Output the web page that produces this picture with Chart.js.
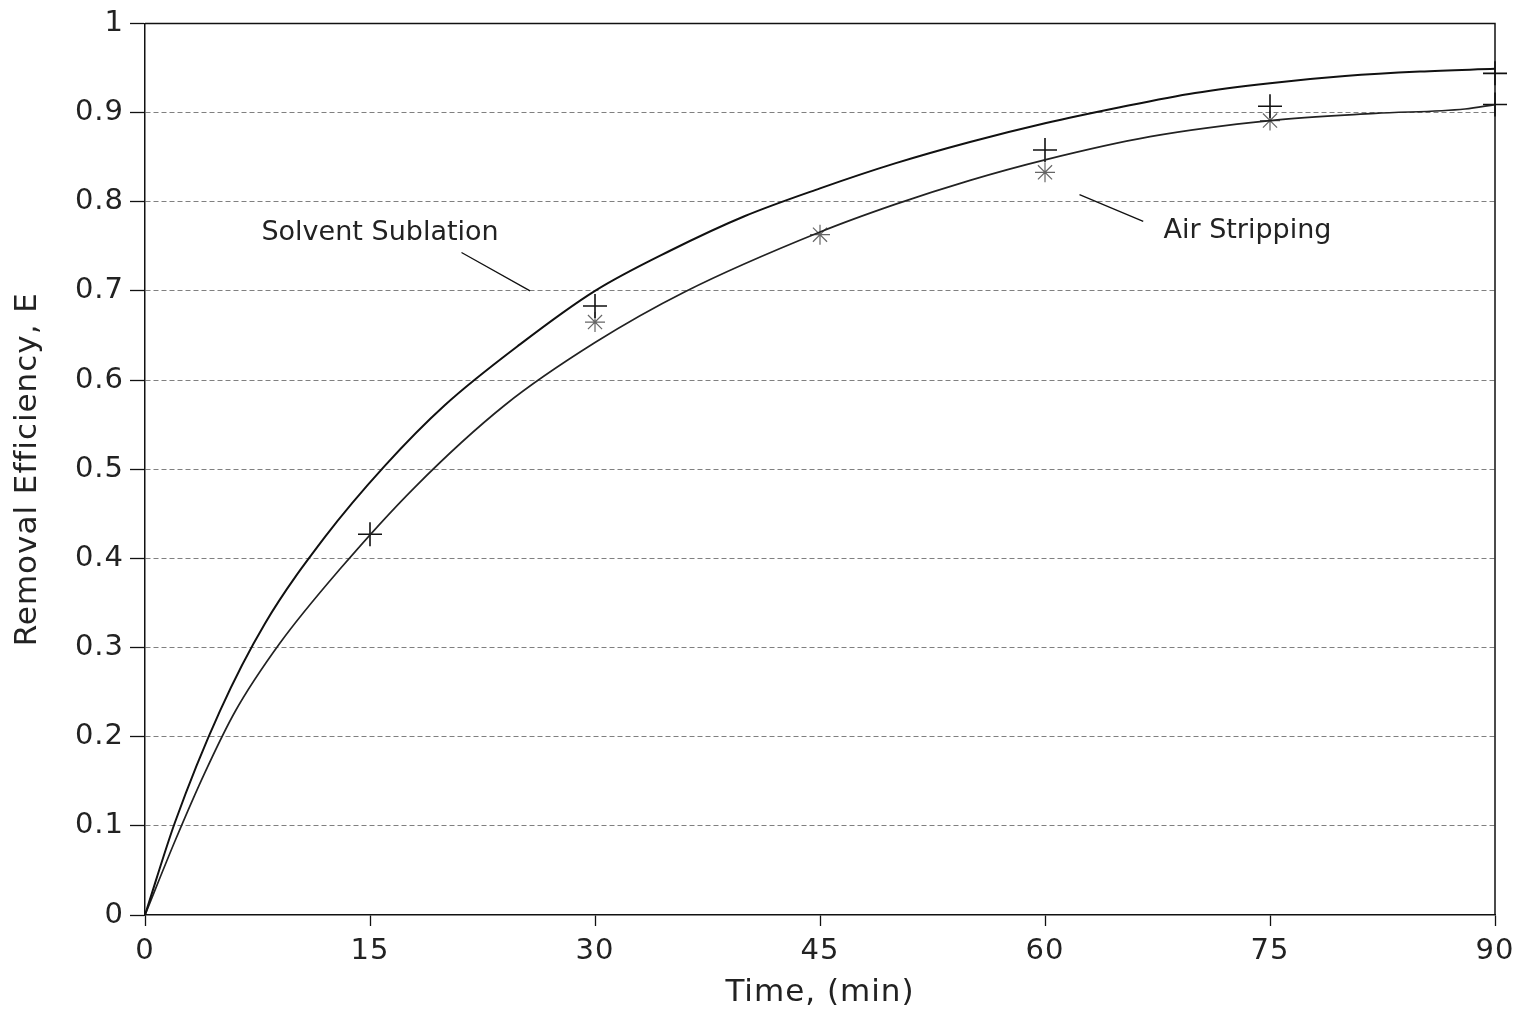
<!DOCTYPE html>
<html>
<head>
<meta charset="utf-8">
<script src="https://cdn.jsdelivr.net/npm/chart.js@4/dist/chart.umd.min.js"></script>
<style>
  html, body { margin: 0; padding: 0; background: #fff; }
  #wrap { width: 1526px; height: 1016px; }
</style>
</head>
<body>
<div id="wrap"><canvas id="chart" width="1526" height="1016"></canvas></div>
<script>
// curve: solvent sublation (upper line)
const sublationTime = [0, 2, 5, 8, 12, 16, 20, 25, 30, 35, 40, 45, 50, 55, 60, 65, 70, 75, 80, 85, 90];
const sublationE = [0, 0.104, 0.229, 0.327, 0.424, 0.504, 0.572, 0.640, 0.70, 0.745, 0.784, 0.815, 0.843, 0.867, 0.888, 0.906, 0.922, 0.933, 0.941, 0.946, 0.949];

// air stripping (lower line)
const strippingTime = [0, 2, 4, 6, 9, 13, 18, 24, 30, 36, 45, 50, 55, 60, 67, 75, 82, 88, 90];
const strippingE = [0, 0.083, 0.160, 0.228, 0.305, 0.388, 0.48, 0.572, 0.642, 0.699, 0.766, 0.797, 0.824, 0.847, 0.873, 0.891, 0.899, 0.904, 0.909];

// measured points
const plusTime = [15, 30, 60, 75, 90, 90];
const plusE = [0.427, 0.683, 0.858, 0.907, 0.944, 0.909];
const starTime = [30, 45, 60, 75];
const starE = [0.665, 0.763, 0.833, 0.891];

const xTicks = [0, 15, 30, 45, 60, 75, 90];
const yTicks = [0, 0.1, 0.2, 0.3, 0.4, 0.5, 0.6, 0.7, 0.8, 0.9, 1];

const FONT = "'DejaVu Sans', Verdana, sans-serif";

function pts(xs, ys) {
  return xs.map((x, i) => ({ x: x, y: ys[i] }));
}

// frame on top/right + curve labels with leader lines
const extras = {
  id: 'extras',
  beforeDraw(chart) {
    chart.ctx.letterSpacing = '1px';
  },
  afterDatasetsDraw(chart) {
    const { ctx, chartArea, scales } = chart;
    const xs = scales.x, ys = scales.y;
    ctx.save();
    ctx.strokeStyle = '#111';
    ctx.lineWidth = 1.5;
    ctx.beginPath();
    ctx.moveTo(chartArea.left, chartArea.top);
    ctx.lineTo(chartArea.right, chartArea.top);
    ctx.lineTo(chartArea.right, chartArea.bottom);
    ctx.stroke();

    ctx.letterSpacing = '0px';
    ctx.fillStyle = '#222';
    ctx.font = '27px ' + FONT;
    ctx.textAlign = 'center';
    ctx.textBaseline = 'middle';
    ctx.fillText('Solvent Sublation', xs.getPixelForValue(15.67), ys.getPixelForValue(0.765));
    ctx.fillText('Air Stripping', xs.getPixelForValue(73.5), ys.getPixelForValue(0.767));

    ctx.lineWidth = 1.3;
    ctx.beginPath();
    ctx.moveTo(xs.getPixelForValue(21.1), ys.getPixelForValue(0.743));
    ctx.lineTo(xs.getPixelForValue(25.67), ys.getPixelForValue(0.700));
    ctx.moveTo(xs.getPixelForValue(62.3), ys.getPixelForValue(0.808));
    ctx.lineTo(xs.getPixelForValue(66.55), ys.getPixelForValue(0.778));
    ctx.stroke();
    ctx.restore();
  }
};

const ctx = document.getElementById('chart').getContext('2d');
const chart = new Chart(ctx, {
  type: 'line',
  data: {
    datasets: [
      {
        label: 'Solvent Sublation',
        data: pts(sublationTime, sublationE),
        borderColor: '#111',
        borderWidth: 2,
        pointRadius: 0,
        cubicInterpolationMode: 'monotone',
        fill: false
      },
      {
        label: 'Air Stripping',
        data: pts(strippingTime, strippingE),
        borderColor: '#222',
        borderWidth: 1.7,
        pointRadius: 0,
        cubicInterpolationMode: 'monotone',
        fill: false
      },
      {
        label: 'data +',
        data: pts(plusTime, plusE),
        showLine: false,
        pointStyle: 'cross',
        pointRadius: 12,
        pointBorderWidth: 1.6,
        pointBorderColor: '#111',
        clip: false
      },
      {
        label: 'data *',
        data: pts(starTime, starE),
        showLine: false,
        pointStyle: 'star',
        pointRadius: 10,
        pointBorderWidth: 1.2,
        pointBorderColor: '#666',
        clip: false
      }
    ]
  },
  options: {
    responsive: false,
    animation: false,
    layout: { padding: { left: 0, top: 20, right: 31, bottom: 0 } },
    plugins: {
      legend: { display: false },
      tooltip: { enabled: false }
    },
    scales: {
      x: {
        type: 'linear',
        min: 0,
        max: 90,
        afterBuildTicks: (scale) => { scale.ticks = xTicks.map(v => ({ value: v })); },
        afterFit: (scale) => { scale.height = 101; },
        ticks: {
          color: '#222',
          padding: 8,
          font: { family: FONT, size: 29 }
        },
        grid: {
          drawOnChartArea: false,
          drawTicks: true,
          tickLength: 11,
          tickColor: '#111',
          tickWidth: 1.3
        },
        border: { display: true, color: '#111', width: 1.5 },
        title: {
          display: true,
          text: 'Time, (min)',
          color: '#222',
          font: { family: FONT, size: 31 },
          padding: { top: 0, bottom: 4 }
        }
      },
      y: {
        type: 'linear',
        min: 0,
        max: 1,
        afterBuildTicks: (scale) => { scale.ticks = yTicks.map(v => ({ value: v })); },
        afterFit: (scale) => { scale.width = 145; },
        ticks: {
          color: '#222',
          padding: 6,
          font: { family: FONT, size: 29 },
          callback: (v) => String(+v.toFixed(1))
        },
        grid: {
          drawOnChartArea: true,
          drawTicks: true,
          tickLength: 15,
          tickColor: '#111',
          tickWidth: 1.3,
          lineWidth: 1,
          color: (c) => (c.tick && (c.tick.value === 0 || c.tick.value === 1)) ? 'rgba(0,0,0,0)' : '#808080'
        },
        border: { display: true, color: '#111', width: 1.5, dash: [5, 3] },
        title: {
          display: true,
          text: 'Removal Efficiency, E',
          color: '#222',
          font: { family: FONT, size: 31 },
          padding: { top: 9, bottom: 0 }
        }
      }
    }
  },
  plugins: [extras]
});
</script>
</body>
</html>
